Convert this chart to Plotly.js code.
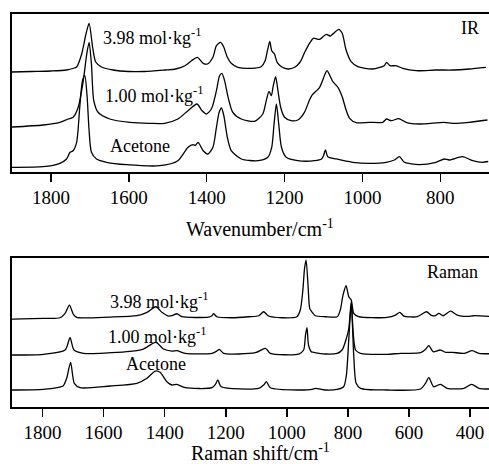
<!DOCTYPE html>
<html>
<head>
<meta charset="utf-8">
<script src="https://cdn.plot.ly/plotly-3.0.1.min.js"></script>
<style>
  html, body { margin: 0; padding: 0; background: #ffffff; }
  #chart { width: 489px; height: 464px; }
</style>
</head>
<body>
<div id="chart"></div>
<script>
// ---------- IR spectra (wavenumber / cm^-1, absorbance in arbitrary offset units) ----------
const irWn398 = [1900,1850,1800,1760,1740,1734,1721,1710,1702,1693,1685,1670,1640,1600,1560,1508,1480,1456,1439,1424,1409,1398,1384,1375,1364,1356,1347,1337,1320,1285,1260,1250,1244,1238,1233,1226,1219,1208,1191,1174,1160,1148,1136,1126,1110,1093,1083,1061,1052,1042,1029,1012,974,944,938,929,914,897,862,811,768,726,683];
const irAbs398 = [100,100.5,101,102,104,105,118,138,148.7,125,110,105,102,100.5,100.5,102,103,106.3,111.3,114.7,108.7,108,114.7,126.3,129.7,124.7,114.7,108.7,104.7,103.7,105.3,111.3,121.3,130.7,121.3,118,109.7,105.3,103,104.7,110,120,128.7,133.7,132.7,137.7,136,142.7,138.7,122,110.3,105.3,103,106.3,109.7,106.3,106.3,103.7,101.3,102,102,103,104.7];

const irWn100 = [1900,1820,1777,1756,1743,1730,1717,1708,1702,1696,1690,1679,1649,1597,1546,1508,1474,1448,1425,1412,1401,1388,1375,1367,1361,1354,1345,1333,1311,1277,1256,1247,1240,1234,1229,1223,1217,1210,1200,1183,1166,1149,1136,1129,1110,1097,1091,1076,1063,1052,1042,1033,1016,982,948,938,926,907,888,854,790,768,726,679];
const irAbs100 = [45,47,49.7,53,54.7,64.7,91.3,118,129.7,108,71.3,59.7,53,49.7,48.7,48.7,53,61.3,68,61.3,58,63,81.3,96.3,98.7,91.3,74.7,59.7,53,50.7,58,71.3,80.7,76.3,86.3,95.3,81.3,64.7,54.7,51.3,52,59.7,72,77,84.7,97,101.3,90.3,84.7,75.3,62,53.7,49.3,49.7,49.7,53,51.3,53.3,49.7,48,49.7,48.7,49.7,52];

const irWnAcetone = [1900,1820,1777,1760,1751,1743,1734,1726,1719,1713,1707,1702,1696,1683,1657,1606,1521,1474,1448,1435,1429,1422,1409,1397,1384,1375,1368,1362,1356,1347,1337,1311,1268,1243,1233,1227,1221,1215,1208,1196,1166,1123,1105,1100,1095,1089,1067,1025,982,939,918,905,892,854,811,790,777,743,717,692,677];
const irAbsAcetone = [4.7,5.3,8.7,13,19.7,21.3,29.7,64.7,91.3,96.3,74.7,41.3,19.7,13,9.7,7.3,6.3,11.3,24.7,27.3,26.5,29.7,21.3,18,24.7,44.7,59.7,64,56.3,34.7,21.3,13,11.3,14.7,24.7,48,68,48,24.7,14.7,11.3,11.3,13,16.3,22,15.3,13,9.7,8.7,9.7,12,15.3,9.7,7.3,9.7,13,12,15.3,11.3,9.7,10.5];

// ---------- Raman spectra (Raman shift / cm^-1, intensity in arbitrary offset units) ----------
const ramWn398 = [1900,1797,1743,1726,1712,1699,1688,1579,1491,1458,1429,1409,1388,1376,1360,1344,1256,1245,1240,1229,1180,1125,1092,1076,1060,1016,967,956,948,942,937,930,925,917,907,874,835,825,816,806,797,789,781,765,672,644,630,617,573,557,543,524,513,502,488,464,442,409,388,336];
const ramInt398 = [88,88.7,89.3,93.7,102,92.7,89.7,90,91.3,94.7,100.3,94.7,91,91.3,93.3,90.3,90,91.3,93.3,90.3,89.3,90.3,91.3,95.3,91,89.3,90.3,97,115.3,138.7,147,118.7,98.7,94.7,91.3,90.3,90.3,97,112,121.3,110.3,107,93.7,90.3,89.7,92,94.7,91,90.3,93,95.3,91.3,91.5,93.7,91.3,96,92,90.7,91.3,90.7];

const ramWn100 = [1900,1797,1726,1710,1697,1666,1524,1470,1429,1404,1376,1360,1333,1245,1229,1221,1207,1103,1070,1054,961,945,939,934,929,920,912,874,835,819,805,797,789,783,775,759,672,628,562,546,535,521,497,480,458,420,393,371,336];
const ramInt100 = [52,52.7,57,69.3,57,53.7,55.3,58,64.7,58,56,56.3,53.7,53.7,56,57.7,53.7,54.3,58.7,53.7,53,57,72,79.3,62,55.3,54.7,53,53.7,57,68.7,78.7,105.3,75.3,57,53.7,52.7,53.7,54.3,57.7,61.3,55.3,57,54.7,54.7,53.7,56.3,53.7,53.3];

const ramWnAcetone = [1900,1797,1753,1732,1721,1708,1696,1677,1579,1491,1458,1431,1415,1393,1376,1360,1333,1245,1234,1226,1215,1092,1076,1067,1054,961,917,907,874,835,814,805,797,789,781,773,759,672,562,546,535,519,497,475,420,395,371,336];
const ramIntAcetone = [17,17.7,19.3,21.3,28.7,44.7,23.7,19.3,21,23.7,28.7,36,34.7,25.3,22,22.7,19.3,19.3,22.7,27,20.3,18.7,22,25.3,19.3,17,17.7,18.7,17,17.7,20.3,32,68.7,104,52,23.7,18.7,17,18,23.7,29.3,20.3,22.7,18.7,18.7,22.7,18.7,18];

// Axis ticks
const irTicks = [1800, 1600, 1400, 1200, 1000, 800];
const ramanTicks = [1800, 1600, 1400, 1200, 1000, 800, 600, 400];

const FONT = 'Liberation Serif, Times New Roman, serif';
const lineStyle = { color: '#000000', width: 1.3, shape: 'spline', smoothing: 0.7 };

function spectrum(x, y, xa, ya, name) {
  return { x: x, y: y, xaxis: xa, yaxis: ya, name: name, type: 'scatter',
           mode: 'lines', line: lineStyle, hoverinfo: 'x+y', showlegend: false };
}

const traces = [
  spectrum(irWn398, irAbs398, 'x', 'y', 'IR 3.98 mol·kg⁻¹'),
  spectrum(irWn100, irAbs100, 'x', 'y', 'IR 1.00 mol·kg⁻¹'),
  spectrum(irWnAcetone, irAbsAcetone, 'x', 'y', 'IR Acetone'),
  spectrum(ramWn398, ramInt398, 'x2', 'y2', 'Raman 3.98 mol·kg⁻¹'),
  spectrum(ramWn100, ramInt100, 'x2', 'y2', 'Raman 1.00 mol·kg⁻¹'),
  spectrum(ramWnAcetone, ramIntAcetone, 'x2', 'y2', 'Raman Acetone')
];

const xAxisBase = {
  ticks: 'outside', ticklen: 8, tickwidth: 1.5, tickcolor: '#000',
  showline: true, linewidth: 1.6, linecolor: '#000', mirror: true,
  showgrid: false, zeroline: false,
  tickfont: { family: FONT, size: 19, color: '#000' }
};
const yAxisBase = {
  showline: true, linewidth: 1.6, linecolor: '#000', mirror: false,
  ticks: '', showticklabels: false, showgrid: false, zeroline: false
};

function label(text, xref, yref, x, y, anchor, size) {
  return { text: text, xref: xref, yref: yref, x: x, y: y, xanchor: anchor, yanchor: 'middle',
           showarrow: false, font: { family: FONT, size: size, color: '#000' } };
}

const layout = {
  width: 489, height: 464,
  margin: { l: 12, r: 0, t: 14, b: 57 },
  paper_bgcolor: '#ffffff', plot_bgcolor: '#ffffff',
  xaxis: Object.assign({}, xAxisBase, { anchor: 'y', range: [1900, 675], tickvals: irTicks }),
  yaxis: Object.assign({}, yAxisBase, { anchor: 'x', domain: [0.598, 1], range: [0, 158] }),
  xaxis2: Object.assign({}, xAxisBase, { anchor: 'y2', range: [1900, 338], tickvals: ramanTicks }),
  yaxis2: Object.assign({}, yAxisBase, { anchor: 'x2', domain: [0, 0.379], range: [0, 149] }),
  annotations: [
    label('3.98 mol·kg<sup>-1</sup>', 'x', 'y', 1672, 135.3, 'left', 18),
    label('1.00 mol·kg<sup>-1</sup>', 'x', 'y', 1667, 77, 'left', 18),
    label('Acetone', 'x', 'y', 1654, 26.3, 'left', 18),
    label('IR', 'x', 'y', 695, 144, 'right', 18),
    label('3.98 mol·kg<sup>-1</sup>', 'x2', 'y2', 1585, 106.3, 'left', 18),
    label('1.00 mol·kg<sup>-1</sup>', 'x2', 'y2', 1592, 72, 'left', 18),
    label('Acetone', 'x2', 'y2', 1533, 43, 'left', 18),
    label('Raman', 'x2', 'y2', 366, 135.3, 'right', 18),
    label('Wavenumber/cm<sup>-1</sup>', 'paper', 'paper', 0.52, 0.455, 'center', 20),
    label('Raman shift/cm<sup>-1</sup>', 'paper', 'paper', 0.52, -0.1145, 'center', 20)
  ]
};

Plotly.newPlot('chart', traces, layout, { staticPlot: true, displayModeBar: false });
</script>
</body>
</html>
